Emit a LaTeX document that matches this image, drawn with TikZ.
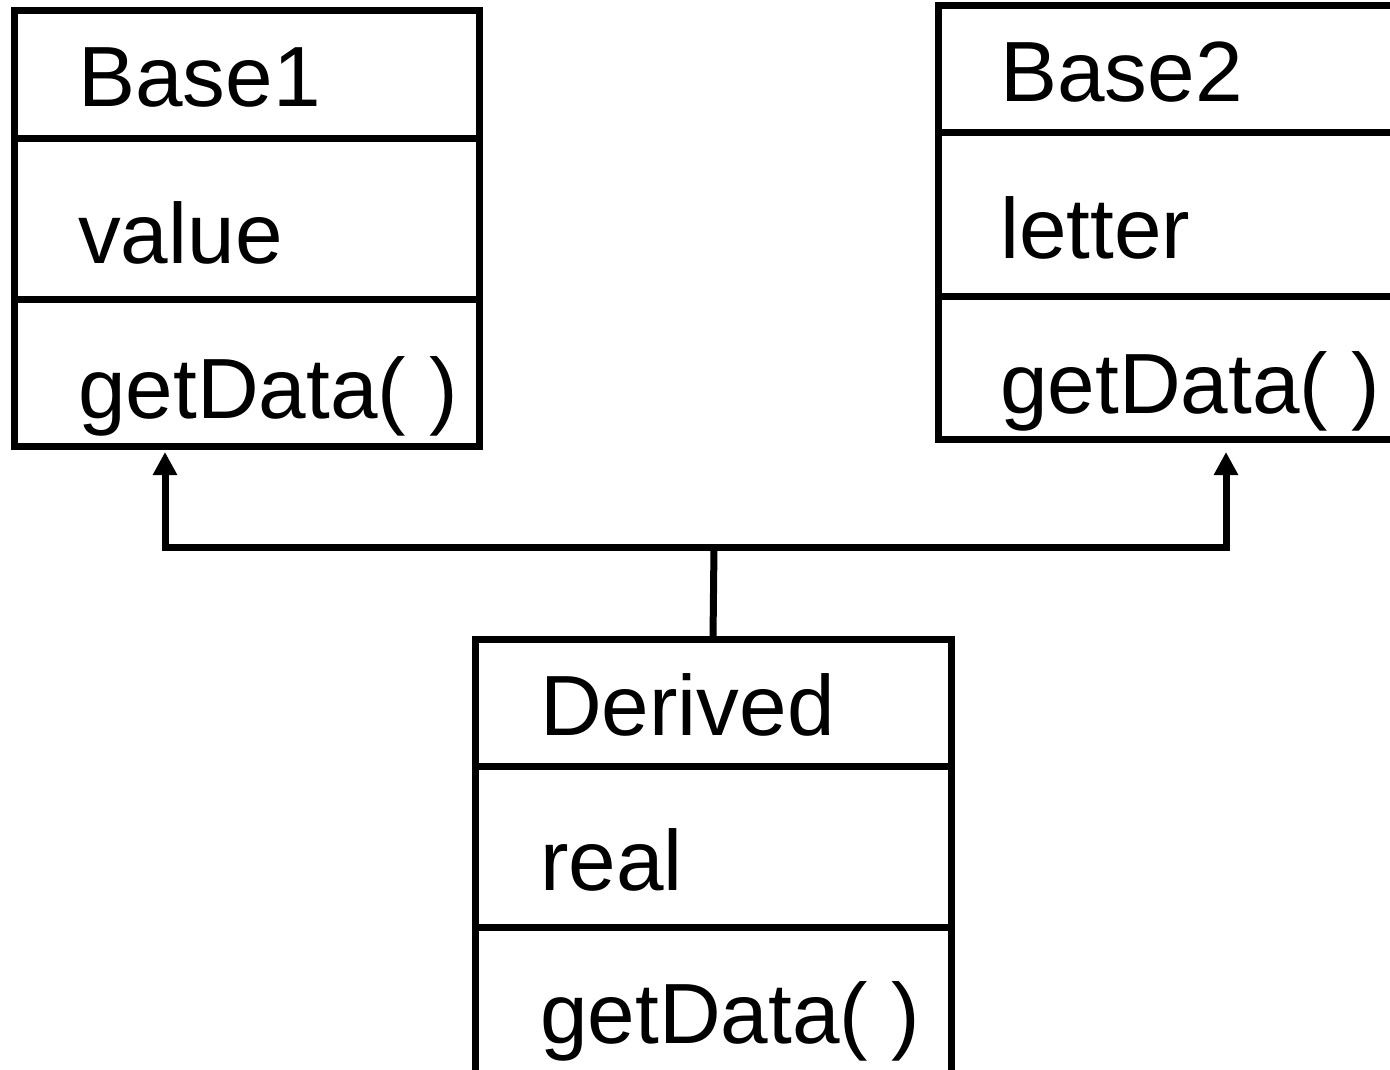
\documentclass[tikz,border=0pt]{standalone}
\usepackage{fontspec}
\setmainfont{Liberation Sans}
\usetikzlibrary{arrows.meta}
\tikzset{
  classbox/.style={draw=black, line width=7pt, anchor=north west, inner sep=0pt, outer sep=0pt},
  divider/.style={line width=7pt},
  member/.style={anchor=base west, inner sep=0pt, font=\fontsize{85.5}{100}\selectfont},
  inherit/.style={line width=7pt, -{Triangle[length=23pt,width=23pt]}},
}
\begin{document}
\begin{tikzpicture}[x=1pt,y=-1pt]
  \useasboundingbox (0,0) rectangle (1390,1070);
  \clip (0,0) rectangle (1390,1070);

  % class Base1
  \node[classbox, minimum width=465pt, minimum height=435pt] (base1) at (14,11) {};
  \draw[divider] (14,139) -- (479,139);
  \draw[divider] (14,299) -- (479,299);
  \node[member] (b1name) at (78,107) {Base1};
  \node[member] (b1attr) at (78,263) {value};
  \node[member] (b1op)   at (78,418) {getData( )};

  % class Base2
  \node[classbox, minimum width=480pt, minimum height=433pt] (base2) at (938,6) {};
  \draw[divider] (938,133) -- (1420,133);
  \draw[divider] (938,296) -- (1420,296);
  \node[member] (b2name) at (1000,102) {Base2};
  \node[member] (b2attr) at (1000,258) {letter};
  \node[member] (b2op)   at (1000,413) {getData( )};

  % class Derived
  \node[classbox, minimum width=476pt, minimum height=450pt] (derived) at (475,639) {};
  \draw[divider] (475,766) -- (951,766);
  \draw[divider] (475,927) -- (951,927);
  \node[member] (dname) at (540,735) {Derived};
  \node[member] (dattr) at (540,890) {real};
  \node[member] (dop)   at (540,1043) {getData( )};

  % inheritance connectors
  \coordinate (fork)  at (714,547);
  \coordinate (b1tip) at (165,452);
  \coordinate (b2tip) at (1226,452);
  \draw[line width=7pt] (derived.north) -- (fork);
  \draw[inherit] (fork) -| (b1tip);
  \draw[inherit] (fork) -| (b2tip);
\end{tikzpicture}
\end{document}
